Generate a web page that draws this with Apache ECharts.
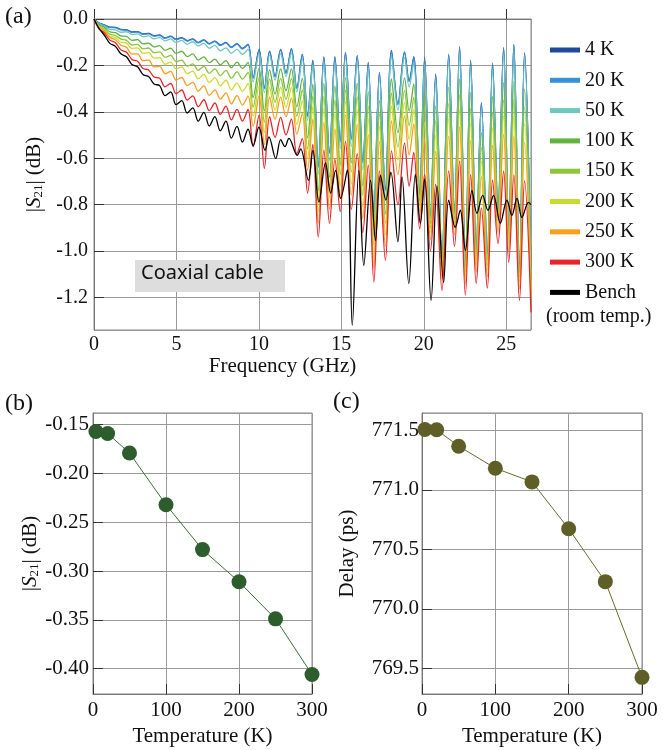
<!DOCTYPE html>
<html>
<head>
<meta charset="utf-8">
<script src="https://cdn.jsdelivr.net/npm/echarts@6/dist/echarts.min.js"></script>
<style>
  html, body { margin: 0; padding: 0; background: #fff; }
  #main { width: 669px; height: 750px; }
</style>
</head>
<body>
<div id="main"></div>
<script>
// (a) |S21| vs frequency, values at ripple peaks / troughs
const freqGHz = [0, 0.3, 0.63, 0.96, 1.3, 1.63, 1.97, 2.3, 2.64, 2.97, 3.31, 3.64, 3.98, 4.31, 4.65, 4.98, 5.32, 5.65, 5.99, 6.32, 6.66, 6.99, 7.33, 7.66, 8.0, 8.33, 8.67, 9.0, 9.34,
  9.65, 10.01, 10.33, 10.65, 10.98, 11.32, 11.64, 11.97, 12.3, 12.63, 12.95, 13.27, 13.6, 13.94, 14.28, 14.61, 14.93, 15.25, 15.6, 15.96,
  16.3, 16.63, 16.97, 17.31, 17.67, 18.04, 18.43, 18.83, 19.11, 19.39, 19.75, 20.05, 20.4, 20.72, 21.1, 21.51, 21.86, 22.17, 22.52, 22.84,
  23.18, 23.49, 23.85, 24.17, 24.5, 24.84, 25.15, 25.46, 25.8, 26.11, 26.5];

const s4K = [0, -0.017, -0.025, -0.035, -0.036, -0.045, -0.046, -0.056, -0.054, -0.064, -0.062, -0.072, -0.069, -0.081, -0.074, -0.087, -0.080, -0.093, -0.086, -0.101, -0.090, -0.106, -0.095, -0.112, -0.101, -0.121, -0.106, -0.127, -0.109,
  -0.252, -0.131, -0.296, -0.138, -0.246, -0.131, -0.231, -0.128, -0.296, -0.152, -0.415, -0.177, -0.635, -0.162, -0.575, -0.162, -0.525, -0.144, -0.515, -0.157,
  -0.615, -0.187, -0.83, -0.23, -0.735, -0.135, -0.365, -0.142, -0.265, -0.162, -0.75, -0.167, -0.845, -0.238, -1.015, -0.152, -0.825, -0.119, -1.035, -0.177,
  -0.985, -0.36, -1.005, -0.19, -0.813, -0.123, -0.893, -0.109, -1.058, -0.145, -1.095];
const s20K = [0, -0.018, -0.026, -0.037, -0.038, -0.047, -0.048, -0.058, -0.056, -0.066, -0.064, -0.074, -0.071, -0.083, -0.076, -0.089, -0.082, -0.095, -0.088, -0.103, -0.092, -0.108, -0.097, -0.114, -0.103, -0.123, -0.108, -0.129, -0.111,
  -0.256, -0.134, -0.30, -0.141, -0.25, -0.134, -0.235, -0.131, -0.30, -0.155, -0.42, -0.18, -0.64, -0.165, -0.58, -0.165, -0.53, -0.147, -0.52, -0.16,
  -0.62, -0.19, -0.834, -0.234, -0.74, -0.138, -0.37, -0.145, -0.27, -0.165, -0.754, -0.17, -0.85, -0.242, -1.02, -0.155, -0.83, -0.122, -1.04, -0.18,
  -0.99, -0.364, -1.01, -0.194, -0.818, -0.126, -0.898, -0.112, -1.063, -0.148, -1.1];
const s50K = [0, -0.021, -0.030, -0.045, -0.047, -0.057, -0.055, -0.066, -0.064, -0.076, -0.073, -0.086, -0.080, -0.094, -0.086, -0.101, -0.092, -0.109, -0.098, -0.116, -0.105, -0.126, -0.114, -0.137, -0.124, -0.148, -0.131, -0.152, -0.130,
  -0.271, -0.148, -0.317, -0.155, -0.263, -0.149, -0.248, -0.146, -0.314, -0.173, -0.437, -0.198, -0.67, -0.185, -0.61, -0.187, -0.56, -0.166, -0.55, -0.181,
  -0.65, -0.212, -0.864, -0.255, -0.77, -0.16, -0.392, -0.165, -0.293, -0.186, -0.764, -0.195, -0.86, -0.266, -1.03, -0.18, -0.84, -0.147, -1.05, -0.205,
  -1.0, -0.387, -1.02, -0.219, -0.828, -0.153, -0.908, -0.14, -1.073, -0.176, -1.11];
const s100K = [0, -0.025, -0.036, -0.055, -0.059, -0.073, -0.075, -0.092, -0.089, -0.107, -0.104, -0.120, -0.115, -0.135, -0.126, -0.148, -0.139, -0.162, -0.150, -0.177, -0.163, -0.188, -0.173, -0.197, -0.179, -0.210, -0.186, -0.213, -0.187,
  -0.338, -0.212, -0.396, -0.219, -0.323, -0.215, -0.309, -0.215, -0.378, -0.256, -0.512, -0.281, -0.74, -0.277, -0.68, -0.288, -0.63, -0.253, -0.62, -0.278,
  -0.72, -0.313, -0.934, -0.352, -0.84, -0.258, -0.49, -0.254, -0.396, -0.28, -0.784, -0.31, -0.88, -0.374, -1.05, -0.295, -0.86, -0.259, -1.07, -0.317,
  -1.02, -0.49, -1.04, -0.334, -0.848, -0.274, -0.928, -0.269, -1.093, -0.302, -1.13];
const s150K = [0, -0.03, -0.043, -0.065, -0.071, -0.087, -0.092, -0.112, -0.109, -0.129, -0.125, -0.145, -0.142, -0.165, -0.157, -0.184, -0.177, -0.203, -0.193, -0.221, -0.204, -0.234, -0.215, -0.244, -0.221, -0.255, -0.228, -0.259, -0.230,
  -0.38, -0.252, -0.444, -0.259, -0.359, -0.256, -0.346, -0.257, -0.418, -0.306, -0.559, -0.331, -0.78, -0.333, -0.72, -0.35, -0.67, -0.307, -0.66, -0.336,
  -0.76, -0.375, -0.974, -0.41, -0.88, -0.319, -0.551, -0.309, -0.459, -0.337, -0.804, -0.38, -0.9, -0.439, -1.07, -0.365, -0.88, -0.328, -1.09, -0.386,
  -1.04, -0.553, -1.06, -0.404, -0.868, -0.349, -0.948, -0.347, -1.113, -0.379, -1.15];
const s200K = [0, -0.033, -0.048, -0.074, -0.080, -0.100, -0.104, -0.127, -0.124, -0.148, -0.144, -0.169, -0.166, -0.195, -0.186, -0.215, -0.206, -0.235, -0.225, -0.258, -0.239, -0.274, -0.253, -0.288, -0.264, -0.305, -0.276, -0.311, -0.278,
  -0.418, -0.288, -0.489, -0.295, -0.393, -0.294, -0.381, -0.296, -0.454, -0.353, -0.602, -0.378, -0.83, -0.385, -0.77, -0.407, -0.72, -0.356, -0.71, -0.391,
  -0.81, -0.432, -1.024, -0.465, -0.93, -0.375, -0.607, -0.36, -0.518, -0.391, -0.824, -0.445, -0.92, -0.501, -1.09, -0.43, -0.9, -0.392, -1.11, -0.45,
  -1.06, -0.612, -1.08, -0.469, -0.888, -0.418, -0.968, -0.42, -1.133, -0.451, -1.17];
const s250K = [0, -0.036, -0.051, -0.079, -0.089, -0.113, -0.122, -0.151, -0.150, -0.180, -0.177, -0.206, -0.204, -0.236, -0.226, -0.263, -0.252, -0.287, -0.273, -0.311, -0.288, -0.329, -0.305, -0.345, -0.318, -0.366, -0.330, -0.371, -0.332,
  -0.462, -0.33, -0.54, -0.337, -0.432, -0.337, -0.421, -0.341, -0.496, -0.407, -0.651, -0.432, -0.88, -0.445, -0.82, -0.473, -0.77, -0.413, -0.76, -0.454,
  -0.86, -0.498, -1.074, -0.528, -0.98, -0.439, -0.671, -0.418, -0.585, -0.452, -0.854, -0.52, -0.95, -0.571, -1.12, -0.505, -0.93, -0.465, -1.14, -0.523,
  -1.09, -0.679, -1.11, -0.544, -0.918, -0.497, -0.998, -0.504, -1.163, -0.533, -1.2];
const s300K = [0, -0.042, -0.059, -0.091, -0.102, -0.133, -0.143, -0.174, -0.182, -0.213, -0.220, -0.250, -0.255, -0.292, -0.278, -0.322, -0.306, -0.349, -0.331, -0.378, -0.348, -0.395, -0.362, -0.411, -0.375, -0.435, -0.389, -0.440, -0.390,
  -0.55, -0.414, -0.643, -0.421, -0.51, -0.424, -0.50, -0.431, -0.58, -0.515, -0.75, -0.54, -0.94, -0.565, -0.88, -0.605, -0.83, -0.527, -0.82, -0.58,
  -0.92, -0.63, -1.134, -0.654, -1.04, -0.568, -0.80, -0.535, -0.72, -0.575, -0.904, -0.67, -1.0, -0.712, -1.17, -0.655, -0.98, -0.612, -1.19, -0.67,
  -1.14, -0.814, -1.16, -0.694, -0.968, -0.656, -1.048, -0.672, -1.213, -0.698, -1.264];

const benchFreq = [0, 0.3, 0.63, 0.96, 1.3, 1.63, 1.97, 2.3, 2.64, 2.97, 3.31, 3.64, 3.98, 4.31, 4.65, 4.98, 5.32, 5.65, 5.99, 6.32, 6.66, 6.99, 7.33, 7.66, 8.0, 8.33, 8.67, 9.0, 9.34,
  9.65, 10.0, 10.37, 10.61, 11.02, 11.32, 11.58, 11.82, 12.33, 12.53, 13.0, 13.27, 13.64, 14.04, 14.35, 14.65, 14.95, 15.36, 15.66, 16.06,
  16.36, 16.77, 17.07, 17.37, 17.7, 18.0, 18.43, 18.68, 19.09, 19.49, 19.79, 20.05, 20.44, 20.8, 21.2, 21.51, 21.91, 22.21, 22.52, 22.92,
  23.22, 23.57, 23.89, 24.23, 24.64, 25.04, 25.34, 25.65, 25.95, 26.35, 26.5];
const sBench = [0, -0.04, -0.070, -0.105, -0.118, -0.150, -0.163, -0.196, -0.206, -0.239, -0.248, -0.280, -0.287, -0.330, -0.314, -0.369, -0.352, -0.405, -0.383, -0.440, -0.402, -0.461, -0.421, -0.482, -0.440, -0.513, -0.463, -0.530, -0.475,
  -0.545, -0.466, -0.566, -0.508, -0.601, -0.52, -0.55, -0.514, -0.587, -0.56, -0.695, -0.566, -0.789, -0.62, -0.75, -0.652, -0.773, -0.65, -1.32, -0.652,
  -1.062, -0.695, -0.954, -0.673, -0.78, -0.66, -0.96, -0.68, -1.14, -0.67, -0.88, -0.69, -1.213, -0.72, -1.135, -0.78, -0.897, -0.824, -0.997, -0.738,
  -0.837, -0.76, -0.824, -0.76, -0.88, -0.78, -0.846, -0.773, -0.855, -0.79, -0.8];

// (b), (c) vs temperature
const tempK = [4, 20, 50, 100, 150, 200, 250, 300];
const lossDb = [-0.157, -0.159, -0.179, -0.232, -0.278, -0.311, -0.349, -0.406];
const delayPs = [771.506, 771.504, 771.366, 771.181, 771.066, 770.673, 770.228, 769.424];

const curveNames = ['4 K', '20 K', '50 K', '100 K', '150 K', '200 K', '250 K', '300 K', 'Bench'];
const curveColors = ['#1d4a9c', '#3a90d6', '#70c6c0', '#62b340', '#8cc63c', '#cadb32', '#f6a01c', '#e8252a', '#000000'];

const serif = '"Liberation Serif", "DejaVu Serif", serif';
const pairs = (xs, ys) => xs.map((x, i) => [x, ys[i]]);

const chart = echarts.init(document.getElementById('main'));

const curves = [s4K, s20K, s50K, s100K, s150K, s200K, s250K, s300K];
const aSeries = curves.map((vals, i) => ({
  name: curveNames[i],
  type: 'line',
  xAxisIndex: 0, yAxisIndex: 0,
  data: pairs(freqGHz, vals),
  smooth: 0.35,
  showSymbol: false,
  lineStyle: { width: 1.3, color: curveColors[i] },
  itemStyle: { color: curveColors[i] }
}));
aSeries.push({
  name: 'Bench',
  type: 'line',
  xAxisIndex: 0, yAxisIndex: 0,
  data: pairs(benchFreq, sBench),
  smooth: 0.35,
  showSymbol: false,
  lineStyle: { width: 1.3, color: '#000' },
  itemStyle: { color: '#000' }
});

const tick = { inside: true, length: 10, lineStyle: { color: '#333' } };
const split = { show: true, lineStyle: { color: '#9a9a9a', width: 1 } };
const axLine = { lineStyle: { color: '#777' } };
const nameStyle = { fontFamily: serif, fontSize: 21, color: '#111' };
const s21Rich = {
  i: { fontFamily: serif, fontSize: 21, fontStyle: 'italic', color: '#111' },
  s: { fontFamily: serif, fontSize: 13, color: '#111', verticalAlign: 'bottom', padding: [9, 0, 0, 0] }
};
const label = (size, extra) => Object.assign({ fontFamily: serif, fontSize: size, color: '#111' }, extra);

const option = {
  animation: false,
  textStyle: { fontFamily: serif },
  grid: [
    { left: 94, top: 19, width: 437, height: 311, show: true, borderColor: '#888' },
    { left: 93, top: 413, width: 219, height: 281, show: true, borderColor: '#888' },
    { left: 422, top: 413, width: 220, height: 281, show: true, borderColor: '#888' }
  ],
  legend: {
    data: curveNames,
    orient: 'vertical',
    left: 545, top: 35,
    itemWidth: 30, itemHeight: 5, itemGap: 10.3,
    icon: 'rect',
    textStyle: { fontFamily: serif, fontSize: 20, color: '#111', lineHeight: 20 }
  },
  xAxis: [
    {
      gridIndex: 0, type: 'value', min: 0, max: 26.5, interval: 5,
      name: 'Frequency (GHz)', nameLocation: 'middle', nameGap: 26,
      nameTextStyle: Object.assign({ padding: [0, 60, 0, 0] }, nameStyle),
      axisLine: axLine, axisTick: tick, splitLine: split,
      axisLabel: label(20, { margin: 5, showMaxLabel: false })
    },
    {
      gridIndex: 1, type: 'value', min: 0, max: 300, interval: 100,
      name: 'Temperature (K)', nameLocation: 'middle', nameGap: 32, nameTextStyle: nameStyle,
      axisLine: axLine, axisTick: tick, splitLine: split,
      axisLabel: label(21, { margin: 6 })
    },
    {
      gridIndex: 2, type: 'value', min: 0, max: 300, interval: 100,
      name: 'Temperature (K)', nameLocation: 'middle', nameGap: 32, nameTextStyle: nameStyle,
      axisLine: axLine, axisTick: tick, splitLine: split,
      axisLabel: label(21, { margin: 6 })
    }
  ],
  yAxis: [
    {
      gridIndex: 0, type: 'value', min: -1.34, max: 0, splitNumber: 7,
      name: '|{i|S}{s|21}| (dB)', nameLocation: 'middle', nameGap: 44,
      nameTextStyle: Object.assign({ rich: s21Rich }, nameStyle),
      axisLine: axLine, axisTick: tick, splitLine: split,
      axisLabel: label(20, { margin: 6, showMinLabel: false, formatter: v => v.toFixed(1) })
    },
    {
      gridIndex: 1, type: 'value', min: -0.426, max: -0.138, splitNumber: 6,
      name: '|{i|S}{s|21}| (dB)', nameLocation: 'middle', nameGap: 48,
      nameTextStyle: Object.assign({ rich: s21Rich }, nameStyle),
      axisLine: axLine, axisTick: tick, splitLine: split,
      axisLabel: label(21, { margin: 4, showMinLabel: false, showMaxLabel: false, formatter: v => v.toFixed(2) })
    },
    {
      gridIndex: 2, type: 'value', min: 769.284, max: 771.645, splitNumber: 5,
      name: 'Delay (ps)', nameLocation: 'middle', nameGap: 64, nameTextStyle: nameStyle,
      axisLine: axLine, axisTick: tick, splitLine: split,
      axisLabel: label(21, { margin: 3, showMinLabel: false, showMaxLabel: false, formatter: v => v.toFixed(1) })
    }
  ],
  series: aSeries.concat([
    {
      type: 'line', xAxisIndex: 1, yAxisIndex: 1,
      data: pairs(tempK, lossDb),
      symbol: 'circle', symbolSize: 15,
      lineStyle: { width: 1, color: '#3d6e38' },
      itemStyle: { color: '#2e5d2d' }
    },
    {
      type: 'line', xAxisIndex: 2, yAxisIndex: 2,
      data: pairs(tempK, delayPs),
      symbol: 'circle', symbolSize: 15,
      lineStyle: { width: 1, color: '#6a6a2e' },
      itemStyle: { color: '#5f5e27' }
    }
  ]),
  graphic: [
    { type: 'text', left: 5, top: 5, style: { text: '(a)', font: '24px "Liberation Serif"', fill: '#111' } },
    { type: 'text', left: 5, top: 392, style: { text: '(b)', font: '24px "Liberation Serif"', fill: '#111' } },
    { type: 'text', left: 333, top: 390, style: { text: '(c)', font: '24px "Liberation Serif"', fill: '#111' } },
    { type: 'text', left: 546, top: 307, style: { text: '(room temp.)', font: '20px "Liberation Serif"', fill: '#111' } },
    { type: 'rect', left: 135, top: 260, z: 10, shape: { width: 150, height: 32 }, style: { fill: '#dddddd' } },
    { type: 'text', left: 141, top: 263, z: 11, style: { text: 'Coaxial cable', font: '20px "Noto Sans"', fill: '#111' } }
  ]
};

chart.setOption(option);
</script>
</body>
</html>
